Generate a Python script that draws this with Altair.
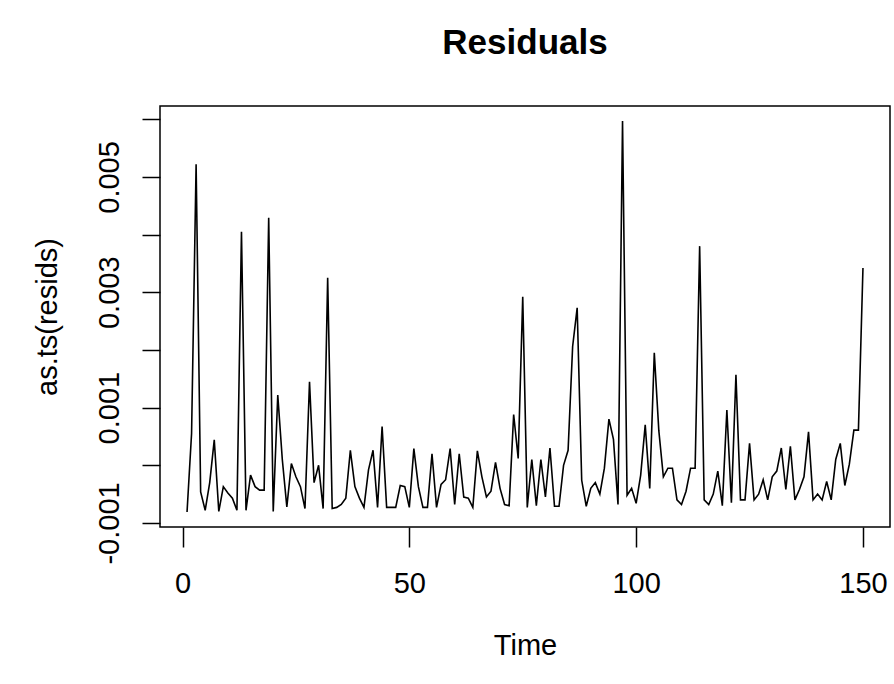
import altair as alt
import pandas as pd

# Time index and residual values
time_idx = list(range(1, 151))
resid = [
    -0.00081, 0.00055, 0.00522, -0.00046, -0.00078, -0.00030, 0.00044, -0.00080, -0.00037, -0.00048,
    -0.00057, -0.00078, 0.00405, -0.00078, -0.00017, -0.00037, -0.00043, -0.00043, 0.00429, -0.00080,
    0.00122, 0.00010, -0.00072, 0.00003, -0.00020, -0.00037, -0.00075, 0.00145, -0.00030, 0.00000,
    -0.00075, 0.00325, -0.00075, -0.00073, -0.00068, -0.00057, 0.00026, -0.00037, -0.00057, -0.00073,
    -0.00008, 0.00026, -0.00073, 0.00067, -0.00073, -0.00073, -0.00073, -0.00035, -0.00037, -0.00073,
    0.00029, -0.00037, -0.00073, -0.00073, 0.00020, -0.00073, -0.00033, -0.00025, 0.00029, -0.00068,
    0.00020, -0.00055, -0.00057, -0.00073, 0.00025, -0.00020, -0.00055, -0.00045, 0.00005, -0.00040,
    -0.00068, -0.00070, 0.00088, 0.00012, 0.00292, -0.00073, 0.00010, -0.00070, 0.00010, -0.00055,
    0.00030, -0.00071, -0.00071, 0.00000, 0.00026, 0.00206, 0.00273, -0.00026, -0.00071, -0.00040,
    -0.00030, -0.00050, -0.00005, 0.00080, 0.00045, -0.00068, 0.00597, -0.00052, -0.00040, -0.00066,
    -0.00017, 0.00070, -0.00040, 0.00195, 0.00060, -0.00020, -0.00005, -0.00005, -0.00060, -0.00068,
    -0.00045, -0.00005, -0.00005, 0.00380, -0.00060, -0.00068, -0.00050, -0.00010, -0.00070, 0.00096,
    -0.00065, 0.00157, -0.00060, -0.00060, 0.00038, -0.00060, -0.00050, -0.00025, -0.00060, -0.00020,
    -0.00010, 0.00030, -0.00042, 0.00033, -0.00060, -0.00042, -0.00020, 0.00058, -0.00060, -0.00050,
    -0.00060, -0.00028, -0.00060, 0.00010, 0.00038, -0.00035, 0.00002, 0.00061, 0.00061, 0.00342,
]

x_ticks = [0, 50, 100, 150]
y_ticks = [-0.001, 0.0, 0.001, 0.002, 0.003, 0.004, 0.005, 0.006]

df = pd.DataFrame({"Time": time_idx, "resid": resid})

FONT = "Liberation Sans"
FS = 29

chart = alt.Chart(df).mark_line(color="black", strokeWidth=1.6).encode(
    x=alt.X(
        "Time:Q",
        scale=alt.Scale(domain=[-4.96, 155.96], nice=False, zero=False),
        axis=alt.Axis(
            values=x_ticks, title="Time", grid=False, domain=False,
            tickSize=20, tickColor="black", tickWidth=1.5,
            labelFont=FONT, labelFontSize=FS, labelColor="black",
            labelBaseline="alphabetic", labelPadding=45, labelFlush=False,
            format="d",
            titleFont=FONT, titleFontSize=FS, titleFontWeight="normal", titleColor="black",
            titleBaseline="alphabetic", titleY=127, titleX=365,
        ),
    ),
    y=alt.Y(
        "resid:Q",
        scale=alt.Scale(domain=[-0.00107, 0.00623], nice=False, zero=False),
        axis=alt.Axis(
            values=y_ticks, title="as.ts(resids)", grid=False, domain=False,
            tickSize=18, tickColor="black", tickWidth=1.5,
            labelFont=FONT, labelFontSize=FS, labelColor="black",
            labelAngle=-90, labelAlign="center", labelBaseline="alphabetic",
            labelPadding=24, labelFlush=False,
            labelExpr="(abs(round(datum.value*1000)) % 2 == 1) ? replace(format(datum.value, '.3f'), '\u2212', '-') : ''",
            titleFont=FONT, titleFontSize=FS, titleFontWeight="normal", titleColor="black",
            titleAngle=270, titleAlign="center", titleBaseline="alphabetic",
            titleX=-104, titleY=210.5,
        ),
    ),
).properties(
    width=730,
    height=421,
    title=alt.TitleParams(
        "Residuals", font=FONT, fontSize=35, fontWeight="bold", color="black",
        anchor="middle", offset=45,
    ),
    autosize=alt.AutoSizeParams(type="none"),
    padding={"left": 160, "top": 106, "right": 4, "bottom": 157},
).configure(
    background="white",
    view=alt.ViewConfig(stroke="black", strokeWidth=1.5),
)

chart.save("out.html", embed_options={"renderer": "svg", "actions": False})
